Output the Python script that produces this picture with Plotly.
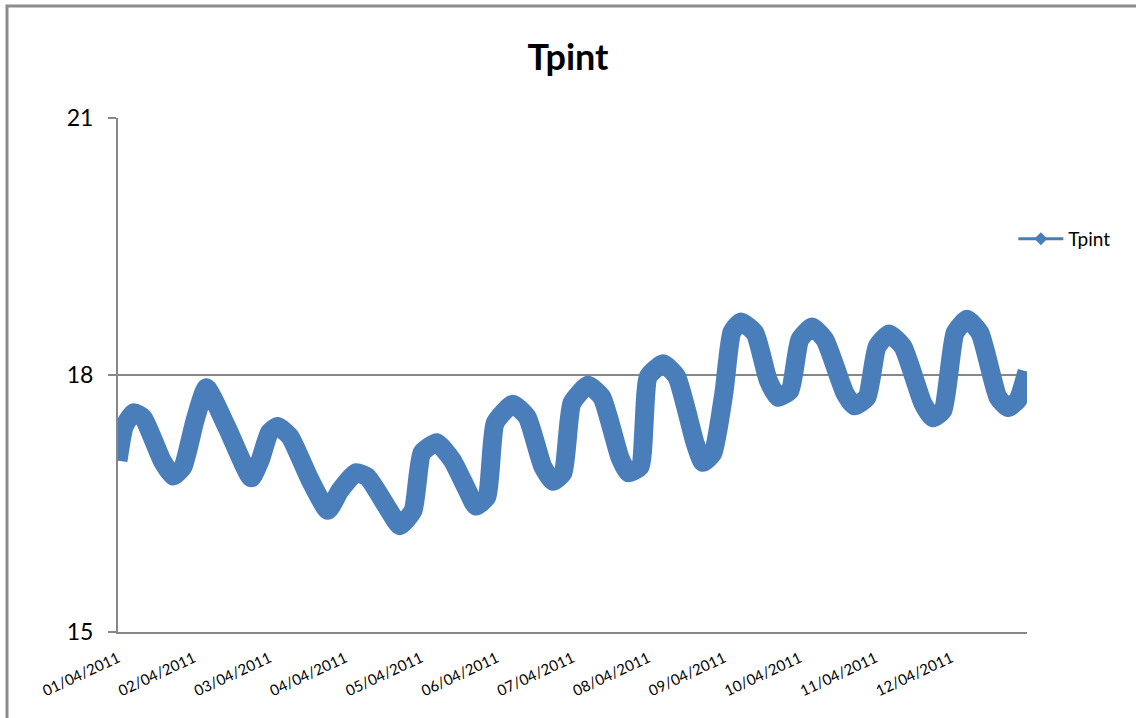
import pandas as pd
import plotly.graph_objects as go

start = pd.Timestamp("2011-04-01 00:00")

# hours after 01/04/2011 00:00
hours = [0, 2, 5, 8, 14, 17.5, 20.6, 24.4, 28, 34.5, 42.2, 45, 48, 50.6, 54.5, 60.8,
         66.5, 70.3, 75.4, 79, 85.2, 89.3, 93.5, 96.3, 101, 106, 110.6, 113.4, 116.9,
         119.5, 125.1, 129.6, 134.6, 137.8, 141, 143.8, 148.9, 153.3, 159, 161.6,
         165.4, 168, 172.7, 177, 182.8, 185.3, 188.5, 192, 194.5, 197.4, 201.8, 206,
         209.1, 212.9, 216, 219.9, 224, 230.3, 233.3, 237.3, 240.5, 244.3, 248.7, 255,
         258.2, 261.4, 265.2, 269, 273.1, 278.8, 282, 285.1, 288]
tpint = [17.0, 17.4, 17.56, 17.5, 17.0, 16.82, 16.93, 17.47, 17.85, 17.39, 16.8, 17.0,
         17.33, 17.4, 17.28, 16.78, 16.42, 16.65, 16.86, 16.81, 16.46, 16.24, 16.42,
         17.09, 17.21, 17.0, 16.66, 16.47, 16.58, 17.44, 17.66, 17.51, 16.93, 16.76,
         16.86, 17.67, 17.88, 17.74, 17.04, 16.86, 16.93, 17.98, 18.13, 17.98, 17.21,
         16.98, 17.09, 17.8, 18.5, 18.62, 18.49, 17.94, 17.74, 17.82, 18.41, 18.56,
         18.41, 17.79, 17.64, 17.74, 18.33, 18.48, 18.33, 17.67, 17.5, 17.59, 18.49,
         18.65, 18.49, 17.74, 17.62, 17.71, 18.04]

day_ticks = pd.date_range(start, periods=12, freq="D")
y_ticks = [15, 18, 21]

times = [start + pd.Timedelta(hours=h) for h in hours]
blue = "#4A7EBB"
grey = "#878787"

fig = go.Figure()
fig.add_trace(go.Scatter(
    x=times, y=tpint, mode="lines",
    line=dict(color=blue, width=19, shape="spline", smoothing=0.5),
    showlegend=False, hoverinfo="x+y",
))
# legend entry drawn thin, like Excel's
fig.add_trace(go.Scatter(
    x=[None], y=[None], mode="lines+markers", name="Tpint",
    line=dict(color=blue, width=3),
    marker=dict(symbol="diamond", size=10, color=blue),
))

fig.update_layout(
    width=1136, height=718,
    margin=dict(l=118, r=109, t=118, b=86),
    paper_bgcolor="white", plot_bgcolor="white",
    font=dict(family="Lato", color="black"),
    title=dict(text="<b>Tpint</b>", x=0.5, xanchor="center", y=0.92, yanchor="middle",
               font=dict(size=36, family="Lato")),
    legend=dict(x=0.985, xanchor="left", y=0.765, yanchor="middle",
                font=dict(size=19), bgcolor="rgba(0,0,0,0)", itemwidth=45),
    shapes=[dict(type="rect", xref="paper", yref="paper",
                 x0=(7 - 118) / 909, x1=(1150 - 118) / 909,
                 y0=-0.2, y1=1 + (118 - 6) / 514,
                 line=dict(color="#8C8C8C", width=3), layer="below")],
)
fig.update_xaxes(
    range=[start, start + pd.Timedelta(days=12)],
    tickvals=day_ticks, ticktext=[d.strftime("%d/%m/%Y") for d in day_ticks],
    tickangle=-25, tickfont=dict(size=15),
    showgrid=False, showline=True, linecolor=grey, linewidth=2,
    ticks="outside", ticklen=10, tickcolor="white", zeroline=False,
)
fig.update_yaxes(
    range=[15, 21], tickvals=y_ticks,
    tickfont=dict(size=23), ticklabelstandoff=10,
    showgrid=True, gridcolor=grey, gridwidth=2,
    showline=True, linecolor=grey, linewidth=2,
    ticks="outside", ticklen=8, tickcolor=grey, tickwidth=2,
    zeroline=False,
)

fig.write_html("out.html", config={"displayModeBar": False},
               post_script="document.body.style.margin='0';")
